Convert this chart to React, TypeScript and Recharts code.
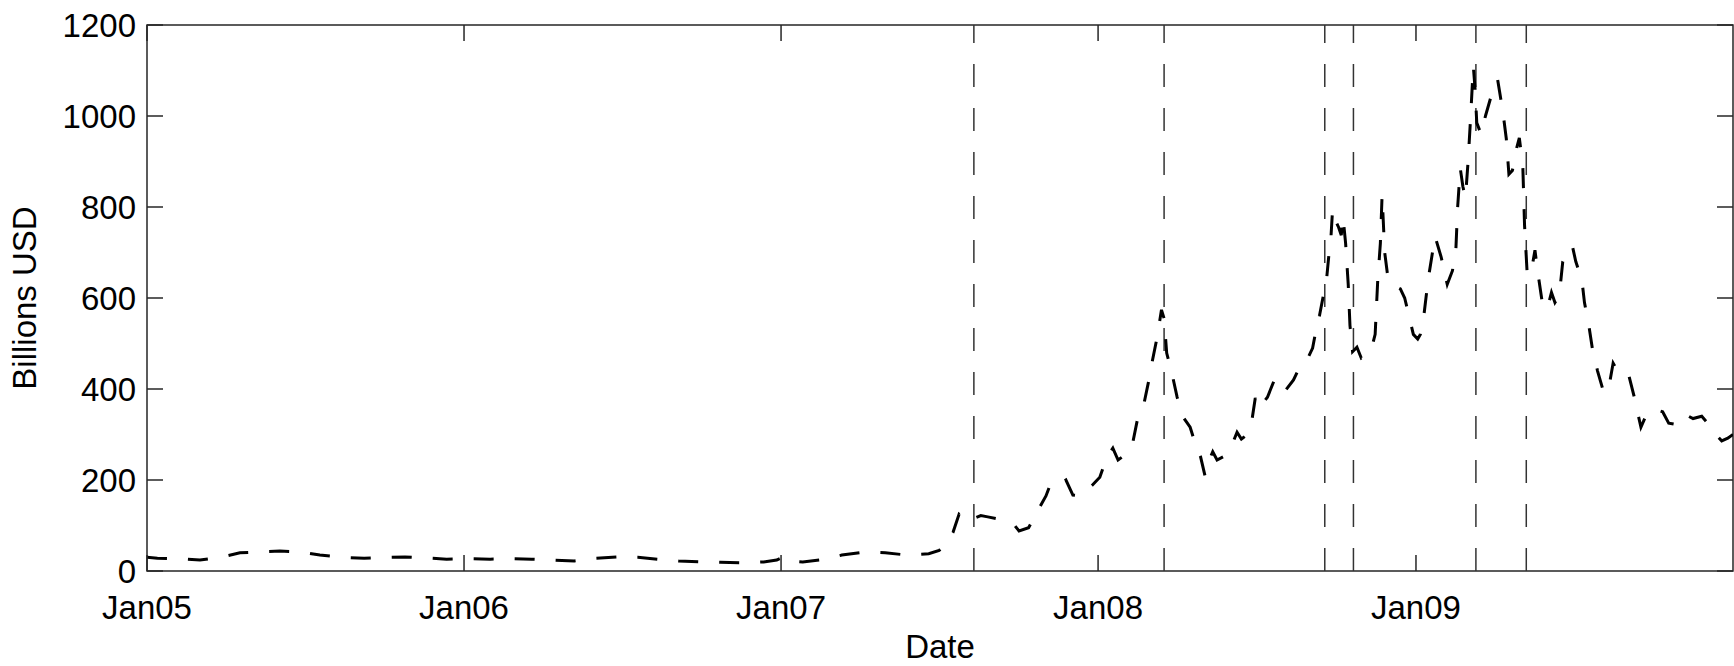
import React from 'react';
import { LineChart, Line, XAxis, YAxis, ReferenceLine, ReferenceArea } from 'recharts';

// Day offsets from 1 Jan 2005
const DAYS = [
  0, 12, 35, 61, 85, 107, 130, 153, 176, 199, 225, 250, 275, 297, 320, 345, 370, 395, 420, 443,
  468, 492, 515, 541, 565, 588, 612, 637, 660, 686, 710, 725, 732, 738, 755, 778, 800, 827, 850, 875,
  900, 912, 920, 928, 935, 940, 945, 951, 960, 968, 978, 990, 999, 1004, 1015, 1026, 1035, 1040, 1046, 1052,
  1058, 1066, 1075, 1088, 1097, 1105, 1112, 1118, 1126, 1134, 1140, 1147, 1153, 1157, 1163, 1168, 1171, 1174, 1180, 1186,
  1193, 1201, 1208, 1213, 1218, 1222, 1227, 1232, 1240, 1248, 1255, 1260, 1267, 1272, 1276, 1280, 1290, 1298, 1303, 1310,
  1320, 1327, 1335, 1342, 1346, 1350, 1355, 1358, 1361, 1363, 1365, 1368, 1372, 1375, 1377, 1380, 1383, 1385, 1388, 1393,
  1398, 1404, 1410, 1414, 1417, 1420, 1422, 1425, 1429, 1435, 1443, 1448, 1453, 1458, 1463, 1466, 1470, 1475, 1480, 1483,
  1490, 1497, 1503, 1507, 1509, 1512, 1515, 1518, 1521, 1524, 1527, 1529, 1531, 1536, 1541, 1547, 1552, 1555, 1561, 1565,
  1568, 1572, 1577, 1580, 1584, 1586, 1589, 1593, 1598, 1601, 1606, 1612, 1617, 1621, 1626, 1630, 1635, 1641, 1645, 1652,
  1655, 1660, 1664, 1670, 1676, 1682, 1688, 1693, 1700, 1706, 1712, 1716, 1720, 1727, 1735, 1745, 1752, 1760, 1770, 1780,
  1790, 1800, 1806, 1813, 1820, 1826,
];

// Billions USD
const VALUES = [
  30, 28, 27, 24, 30, 40, 42, 44, 42, 35, 30, 28, 30, 31, 29, 26, 27, 26, 27, 26,
  24, 22, 28, 31, 30, 26, 22, 20, 19, 18, 20, 24, 30, 22, 20, 25, 35, 42, 40, 35,
  38, 45, 60, 85, 125, 118, 125, 115, 122, 119, 115, 105, 100, 88, 95, 134, 165, 190, 198, 192,
  200, 167, 165, 188, 206, 250, 270, 244, 255, 273, 330, 360, 415, 457, 514, 574, 555, 479, 435, 382,
  338, 316, 273, 251, 210, 240, 262, 244, 252, 272, 305, 290, 300, 330, 380, 358, 382, 420, 400, 395,
  420, 448, 462, 490, 530, 562, 612, 640, 700, 730, 795, 772, 755, 738, 778, 720, 630, 540, 482, 492,
  468, 476, 490, 520, 640, 720, 826, 700, 640, 628, 620, 600, 560, 520, 510, 520, 560, 640, 700, 735,
  690, 630, 660, 710, 800, 885, 845, 820, 900, 1000, 1110, 1060, 985, 960, 1000, 1040, 1070, 1080, 1010, 950,
  872, 880, 930, 952, 890, 760, 655, 650, 705, 660, 595, 575, 612, 590, 605, 680, 700, 715, 680, 640,
  590, 540, 490, 440, 400, 392, 457, 440, 442, 430, 385, 350, 316, 347, 356, 350, 325, 322, 345, 335,
  340, 318, 300, 286, 292, 300,
];

const X_TICKS = [0, 365, 730, 1095, 1461];
const X_TICK_LABELS = ['Jan05', 'Jan06', 'Jan07', 'Jan08', 'Jan09'];
const Y_TICKS = [0, 200, 400, 600, 800, 1000, 1200];
const EVENT_DAYS = [952, 1171, 1356, 1389, 1530, 1588];
const X_DOMAIN: [number, number] = [0, 1826];
const Y_DOMAIN: [number, number] = [0, 1200];

const W = 1734;
const H = 666;
const LEFT = 147;
const TOP = 25;
const RIGHT = 1733;
const BOTTOM = 571;
const FONT = '"Liberation Sans", Arial, Helvetica, sans-serif';
const FS = 33;
const TICK_LEN = 16;
const AXIS_COLOR = '#262626';

const data = DAYS.map((d, i) => ({ day: d, value: VALUES[i] }));

function XTick(props: any) {
  const { x, payload } = props;
  const idx = X_TICKS.indexOf(payload.value);
  const label = idx >= 0 ? X_TICK_LABELS[idx] : '';
  return (
    <g>
      <line x1={x} y1={BOTTOM} x2={x} y2={BOTTOM - TICK_LEN} stroke={AXIS_COLOR} strokeWidth={1.5} />
      <line x1={x} y1={TOP} x2={x} y2={TOP + TICK_LEN} stroke={AXIS_COLOR} strokeWidth={1.5} />
      <text x={x} y={619} textAnchor="middle" fontSize={FS} fontFamily={FONT} fill="#000">
        {label}
      </text>
    </g>
  );
}

function YTick(props: any) {
  const { y, payload } = props;
  return (
    <g>
      <line x1={LEFT} y1={y} x2={LEFT + TICK_LEN} y2={y} stroke={AXIS_COLOR} strokeWidth={1.5} />
      <line x1={RIGHT} y1={y} x2={RIGHT - TICK_LEN} y2={y} stroke={AXIS_COLOR} strokeWidth={1.5} />
      <text x={136} y={y + 12} textAnchor="end" fontSize={FS} fontFamily={FONT} fill="#000">
        {String(payload.value)}
      </text>
    </g>
  );
}

function YLabel() {
  const cx = 36;
  const cy = (TOP + BOTTOM) / 2;
  return (
    <text
      x={cx}
      y={cy}
      transform={`rotate(-90 ${cx} ${cy})`}
      textAnchor="middle"
      fontSize={FS}
      fontFamily={FONT}
      fill="#000"
    >
      Billions USD
    </text>
  );
}

function XLabel() {
  return (
    <text x={(LEFT + RIGHT) / 2} y={658} textAnchor="middle" fontSize={FS} fontFamily={FONT} fill="#000">
      Date
    </text>
  );
}

export default function App() {
  return (
    <div style={{ position: 'absolute', left: 0, top: 0, width: W, height: H, background: '#fff' }}>
      <LineChart
        width={W}
        height={H}
        data={data}
        margin={{ top: TOP, right: W - RIGHT, bottom: 0, left: 0 }}
      >
        <XAxis
          dataKey="day"
          type="number"
          domain={X_DOMAIN}
          allowDataOverflow
          ticks={X_TICKS}
          interval={0}
          height={H - BOTTOM}
          tickLine={false}
          axisLine={false}
          tickSize={0}
          tick={<XTick />}
          label={<XLabel />}
        />
        <YAxis
          type="number"
          domain={Y_DOMAIN}
          allowDataOverflow
          ticks={Y_TICKS}
          interval={0}
          width={LEFT}
          tickLine={false}
          axisLine={false}
          tickSize={0}
          tick={<YTick />}
          label={<YLabel />}
        />
        <ReferenceArea
          x1={X_DOMAIN[0]}
          x2={X_DOMAIN[1]}
          y1={Y_DOMAIN[0]}
          y2={Y_DOMAIN[1]}
          fill="none"
          fillOpacity={0}
          stroke={AXIS_COLOR}
          strokeWidth={1.5}
          ifOverflow="visible"
        />
        {EVENT_DAYS.map((d) => (
          <ReferenceLine
            key={d}
            x={d}
            stroke="#333"
            strokeWidth={1.5}
            strokeDasharray="23 21"
            ifOverflow="visible"
          />
        ))}
        <Line
          type="linear"
          dataKey="value"
          stroke="#000"
          strokeWidth={3}
          strokeDasharray="20 21"
          dot={false}
          activeDot={false}
          isAnimationActive={false}
        />
      </LineChart>
    </div>
  );
}
